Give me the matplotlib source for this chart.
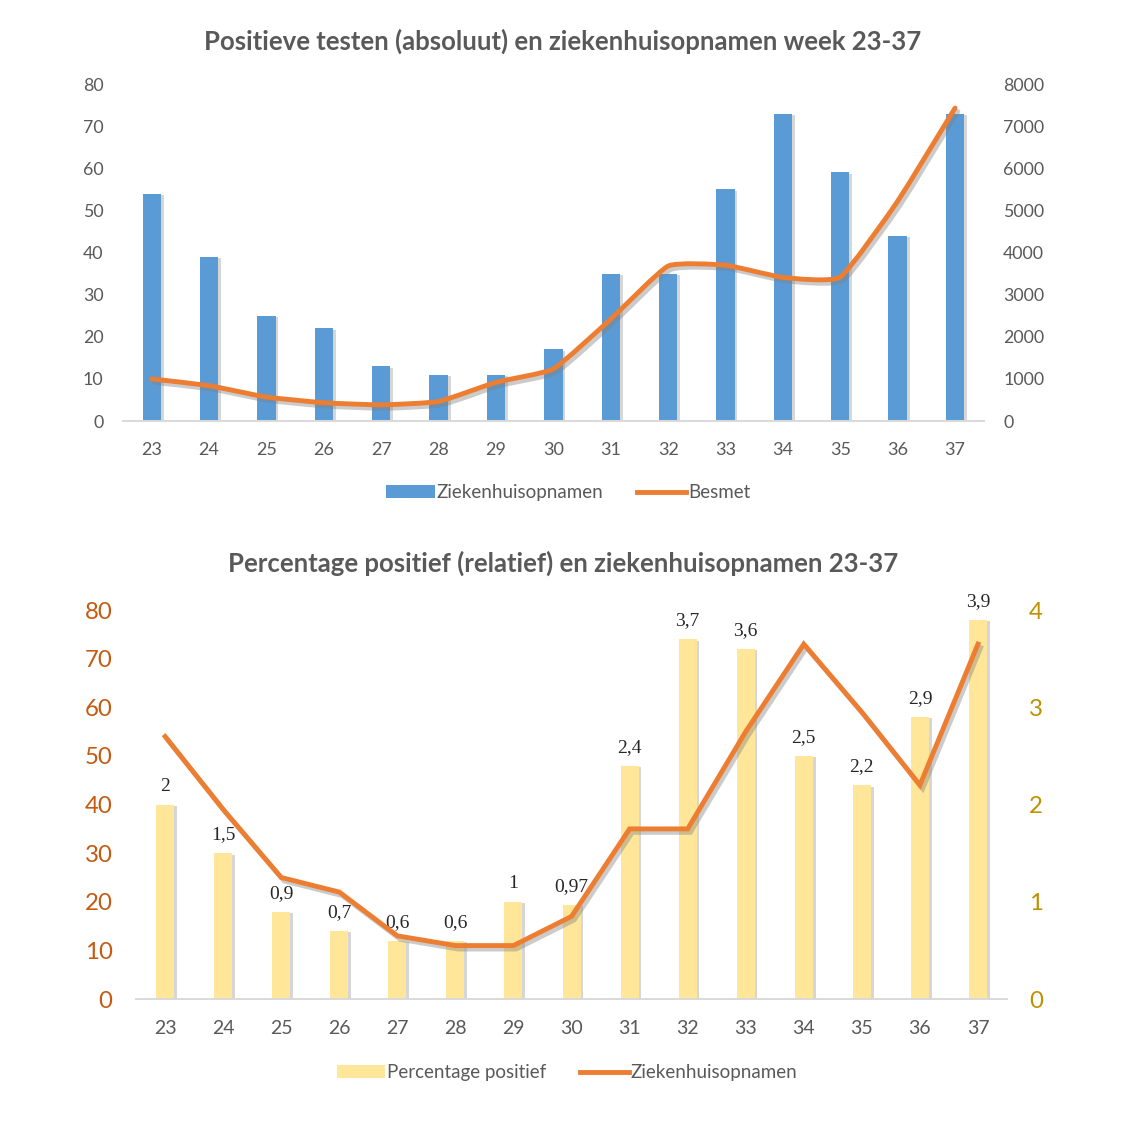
import matplotlib
matplotlib.use("Agg")
import matplotlib.pyplot as plt
import matplotlib.patheffects as pe
from matplotlib.path import Path
from matplotlib.patches import PathPatch, Patch
from matplotlib.lines import Line2D
import numpy as np

plt.rcParams['font.family'] = ['Lato', 'DejaVu Sans']

weeks = ["23", "24", "25", "26", "27", "28", "29", "30", "31", "32", "33", "34", "35", "36", "37"]
opnamen = [54, 39, 25, 22, 13, 11, 11, 17, 35, 35, 55, 73, 59, 44, 73]
besmet = [1000, 840, 570, 435, 385, 465, 920, 1240, 2420, 3680, 3700, 3410, 3420, 5220, 7430]
percentage = [2, 1.5, 0.9, 0.7, 0.6, 0.6, 1, 0.97, 2.4, 3.7, 3.6, 2.5, 2.2, 2.9, 3.9]
pct_labels = ["2", "1,5", "0,9", "0,7", "0,6", "0,6", "1", "0,97", "2,4", "3,7", "3,6", "2,5", "2,2", "2,9", "3,9"]

BLUE = "#5B9BD5"
ORANGE = "#ED7D31"
YELLOW = "#FFE699"
GRAY = "#595959"
AXIS_ORANGE = "#C55A11"
AXIS_GOLD = "#BF9000"

bar_fx = [pe.SimplePatchShadow(offset=(2, -1), shadow_rgbFace="#8c8c8c", alpha=0.35), pe.Normal()]
line_fx = [pe.SimpleLineShadow(offset=(2, -2.5), shadow_color="#7f7f7f", alpha=0.4), pe.Normal()]

fig = plt.figure(figsize=(11.34, 11.34), dpi=100)
x = np.arange(len(weeks))

def style(ax, ax2, lcol, rcol, lsize, rsize, xsize, lpad, rpad, xpad):
    for a in (ax, ax2):
        for s in ("top", "left", "right"):
            a.spines[s].set_visible(False)
        a.spines["bottom"].set_color("#D9D9D9")
        a.spines["bottom"].set_linewidth(1.2)
    ax.tick_params(axis="y", length=0, labelsize=lsize, labelcolor=lcol, pad=lpad)
    ax2.tick_params(axis="y", length=0, labelsize=rsize, labelcolor=rcol, pad=rpad)
    ax.tick_params(axis="x", length=0, labelsize=xsize, labelcolor=GRAY, pad=xpad)

# ---------- top chart ----------
ax1 = fig.add_axes([0.1085, 0.6287, 0.759, 0.2972])
ax1.bar(x, opnamen, width=0.32, color=BLUE, path_effects=bar_fx, zorder=2)
ax1.set_ylim(0, 80)
ax1.set_yticks(range(0, 81, 10))
ax1.set_xlim(-0.5, len(weeks) - 0.5)
ax1.set_xticks(x)
ax1.set_xticklabels(weeks)
ax1b = ax1.twinx()
ax1b.set_ylim(0, 8000)
ax1b.set_yticks(range(0, 8001, 1000))
# smoothed line drawn as bezier through the data points
pts = np.column_stack([x, besmet]).astype(float)
verts = [tuple(pts[0])]
codes = [Path.MOVETO]
k = 0.075
for i in range(len(pts) - 1):
    p0 = pts[i - 1] if i > 0 else pts[i]
    p1 = pts[i]
    p2 = pts[i + 1]
    p3 = pts[i + 2] if i + 2 < len(pts) else pts[i + 1]
    c1 = p1 + (p2 - p0) * k
    c2 = p2 - (p3 - p1) * k
    verts += [tuple(c1), tuple(c2), tuple(p2)]
    codes += [Path.CURVE4] * 3
curve = PathPatch(Path(verts, codes), facecolor="none", edgecolor=ORANGE, lw=3.5,
                  capstyle="round", joinstyle="round", zorder=3,
                  path_effects=[pe.SimpleLineShadow(offset=(2, -2.5), shadow_color="#7f7f7f", alpha=0.4), pe.Normal()])
ax1b.add_patch(curve)
style(ax1, ax1b, GRAY, GRAY, 12.8, 12.8, 13, 14, 14, 15)

fig.text(0.4965, 0.9638, "Positieve testen (absoluut) en ziekenhuisopnamen week 23-37",
         ha="center", va="center", fontsize=18.5, fontweight="bold", color=GRAY)
h1 = [Patch(facecolor=BLUE, edgecolor="none"), Line2D([], [], color=ORANGE, lw=3.5)]
fig.legend(h1, ["Ziekenhuisopnamen", "Besmet"], loc="center", bbox_to_anchor=(0.501, 0.5653),
           ncol=2, frameon=False, fontsize=13.5, labelcolor=GRAY, handlelength=2.6,
           handleheight=0.7, handletextpad=0.1, columnspacing=1.8)

# ---------- bottom chart ----------
ax2 = fig.add_axes([0.12, 0.119, 0.768, 0.343])
ax2b = ax2.twinx()
ax2.set_zorder(ax2b.get_zorder() + 1)
ax2.patch.set_visible(False)
ax2b.bar(x, percentage, width=0.31, color=YELLOW, path_effects=bar_fx, zorder=2)
ax2b.set_ylim(0, 4)
ax2b.set_yticks(range(0, 5))
for xi, v, t in zip(x, percentage, pct_labels):
    ax2b.annotate(t, (xi, v), xytext=(0, 7), textcoords="offset points", ha="center", va="bottom",
                  fontsize=14, color="#262626", family=["Liberation Serif"])
ax2.plot(x, opnamen, color=ORANGE, lw=3.5, path_effects=line_fx, solid_joinstyle="miter", zorder=3)
ax2.set_ylim(0, 80)
ax2.set_yticks(range(0, 81, 10))
ax2.set_xlim(-0.5, len(weeks) - 0.5)
ax2.set_xticks(x)
ax2.set_xticklabels(weeks)
style(ax2, ax2b, AXIS_ORANGE, AXIS_GOLD, 17.3, 17.3, 14, 17, 16, 15)

fig.text(0.4965, 0.5035, "Percentage positief (relatief) en ziekenhuisopnamen 23-37",
         ha="center", va="center", fontsize=18.5, fontweight="bold", color=GRAY)
h2 = [Patch(facecolor=YELLOW, edgecolor="none"), Line2D([], [], color=ORANGE, lw=3.5)]
fig.legend(h2, ["Percentage positief", "Ziekenhuisopnamen"], loc="center", bbox_to_anchor=(0.5, 0.0538),
           ncol=2, frameon=False, fontsize=13.5, labelcolor=GRAY, handlelength=2.6,
           handleheight=0.7, handletextpad=0.1, columnspacing=1.8)

fig.savefig("out.png", dpi=100, facecolor="white")
